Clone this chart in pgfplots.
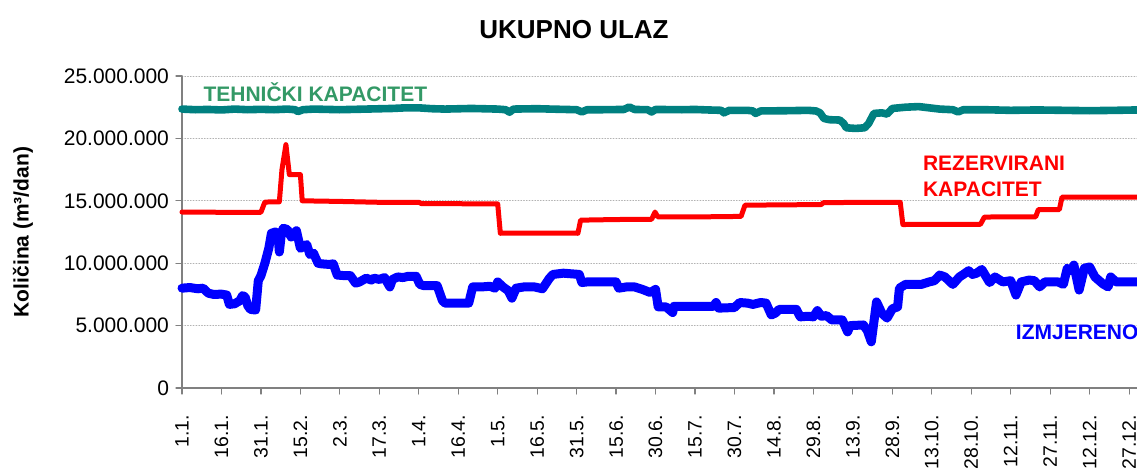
\documentclass[border=0pt]{standalone}
\usepackage{pgfplots}
\pgfplotsset{compat=1.18}
\usepackage{fontspec}
\setmainfont{Liberation Sans}
\definecolor{tealc}{RGB}{0,128,128}
\definecolor{seag}{RGB}{51,153,102}
\definecolor{axgray}{RGB}{128,128,128}
\begin{document}
\begin{tikzpicture}
\begin{axis}[
  at={(0,0)}, anchor=south west,
  scale only axis, width=477.5pt, height=156pt,
  xmin=0, xmax=363, ymin=0, ymax=25,
  axis lines=left, axis line style={-, draw=axgray, line width=0.6pt},
  xtick={0,15,...,360},
  xticklabels={1.1.,16.1.,31.1.,15.2.,2.3.,17.3.,1.4.,16.4.,1.5.,16.5.,31.5.,15.6.,30.6.,15.7.,30.7.,14.8.,29.8.,13.9.,28.9.,13.10.,28.10.,12.11.,27.11.,12.12.,27.12.},
  xticklabel style={rotate=90, anchor=east, font=\fontsize{9.7}{11}\selectfont},
  xticklabel shift=7pt,
  ytick={0,5,...,25},
  yticklabels={0,5.000.000,10.000.000,15.000.000,20.000.000,25.000.000},
  yticklabel style={font=\fontsize{10.5}{12}\selectfont},
  tick style={axgray, line width=0.6pt}, tick align=outside, major tick length=3pt,
  ymajorgrids, grid style={densely dotted, gray!60, line width=0.5pt},
  clip=false,
  line join=round, line cap=round,
]
% TEHNICKI KAPACITET
\addplot[tealc, line width=3.8pt] coordinates {
(0,22.35)(5,22.3)(10,22.32)(15,22.28)(20,22.35)(25,22.3)(30,22.33)(35,22.3)(40,22.35)(43,22.3)(44,22.15)(46,22.3)(50,22.35)(60,22.3)(70,22.35)(80,22.4)(85,22.45)(90,22.45)(95,22.38)(100,22.35)(110,22.4)(120,22.35)(123,22.3)(124.5,22.1)(126,22.35)(135,22.38)(140,22.35)(150,22.3)(152,22.12)(154,22.3)(160,22.3)(168,22.32)(170,22.52)(172,22.32)(177,22.3)(178.5,22.12)(180,22.32)(190,22.3)(195,22.32)(200,22.28)(205,22.25)(206,22.05)(208,22.25)(215,22.25)(217,22.2)(218,22.0)(220,22.2)(230,22.22)(238,22.25)(241,22.2)(242.5,22.05)(244,21.6)(246,21.5)(250,21.47)(251.5,21.2)(252.5,20.85)(256,20.8)(259.5,20.85)(261,21.2)(263,22.0)(266,22.05)(268,21.95)(270,22.4)(275,22.5)(280,22.55)(284,22.45)(288,22.35)(293,22.3)(295,22.12)(297,22.3)(305,22.3)(315,22.25)(325,22.28)(335,22.25)(345,22.22)(355,22.25)(363,22.28)
};
% REZERVIRANI KAPACITET
\addplot[red, line width=2.5pt] coordinates {
(0,14.1)(15,14.08)(30,14.08)(31.5,14.9)(37,14.92)(38,17.5)(39.5,19.5)(40.8,17.1)(45,17.1)(45.7,15.0)(60,14.95)(75,14.88)(90,14.88)(91,14.78)(120,14.75)(121,12.4)(135,12.42)(150.5,12.4)(151.5,13.45)(165,13.5)(178.5,13.52)(179.8,14.1)(180.8,13.72)(200,13.72)(212.5,13.75)(214,14.65)(243,14.7)(243.8,14.85)(260,14.88)(273,14.88)(274,13.1)(290,13.12)(303.5,13.12)(305,13.7)(324.5,13.72)(325.5,14.3)(333.5,14.3)(334.5,15.3)(363,15.3)
};
% IZMJERENO
\addplot[blue, line width=4.5pt] coordinates {
(0,8.0)(3,8.05)(6,7.95)(8,8.0)(10,7.6)(12,7.5)(15,7.52)(17,7.45)(18,6.7)(20,6.75)(22,7.0)(23,7.4)(24,7.3)(25,6.6)(26,6.3)(28,6.25)(29,8.6)(30,9.0)(31.5,10.0)(33,11.2)(34,12.4)(35.5,12.5)(36.5,12.3)(37,10.9)(37.8,12.4)(38.5,12.8)(40,12.7)(41.5,12.1)(42.5,12.4)(43.5,12.6)(45,11.2)(46,11.3)(47.4,11.5)(48.6,10.7)(50,10.8)(51.7,10.0)(53,9.95)(56,9.9)(57.5,9.95)(59,9.05)(62,9.0)(64,9.0)(66,8.4)(67.5,8.5)(70,8.8)(72,8.65)(73,8.8)(75,8.7)(77,8.85)(79,8.1)(80,8.7)(82,8.9)(84,8.85)(86,8.95)(89,8.95)(90.4,8.3)(92,8.2)(97,8.2)(99,7.0)(100,6.8)(109,6.8)(110.5,8.1)(114,8.1)(117,8.15)(119,8.0)(120,8.5)(122,8.1)(124,7.8)(125.4,7.2)(127,8.0)(130,8.1)(134,8.1)(137,7.95)(139.7,8.8)(141,9.1)(145,9.2)(151,9.1)(152,8.45)(154,8.5)(165,8.5)(166,8.0)(169,8.1)(172,8.1)(175,7.9)(178,7.65)(180,7.9)(181,6.5)(184,6.5)(186.5,6.05)(187,6.55)(195,6.55)(202,6.55)(203,6.85)(204,6.4)(210,6.45)(212,6.85)(215,6.8)(217,6.7)(220,6.85)(222,6.8)(224,5.85)(225.5,6.0)(227,6.3)(230,6.3)(233.5,6.3)(235,5.7)(238,5.75)(240,5.7)(241.5,6.2)(243,5.75)(245,5.8)(247,5.45)(251,5.45)(253,4.5)(254,5.0)(259,5.05)(260.5,4.6)(262,3.7)(264,6.9)(266,6.0)(268,5.6)(270,6.35)(272,6.5)(272.7,8.0)(275,8.3)(281,8.3)(284,8.5)(286,8.6)(288,9.05)(290,8.9)(293,8.3)(295.5,8.9)(297,9.1)(299,9.4)(300.5,9.1)(302,9.2)(304,9.5)(307,8.45)(309,8.9)(312,8.5)(315,8.6)(317,7.45)(319,8.5)(322,8.65)(324,8.6)(326,8.1)(328,8.5)(333,8.5)(335,8.3)(336.5,9.6)(338,9.4)(339,9.85)(341,7.85)(343,9.6)(345,9.7)(347,8.9)(350,8.35)(352,8.1)(353,8.9)(355,8.5)(363,8.5)
};
\node[seag, font=\fontsize{10.5}{12}\selectfont\bfseries, anchor=west] at (axis cs:5.5,23.7) {TEHNIČKI KAPACITET};
\node[red, font=\fontsize{10.5}{12}\selectfont\bfseries, anchor=west] at (axis cs:279,18.0) {REZERVIRANI};
\node[red, font=\fontsize{10.5}{12}\selectfont\bfseries, anchor=west] at (axis cs:279,15.9) {KAPACITET};
\node[blue, font=\fontsize{10.5}{12}\selectfont\bfseries, anchor=west] at (axis cs:314.3,4.5) {IZMJERENO};
\end{axis}
\node[font=\fontsize{13}{15}\selectfont\bfseries] at (196pt,179pt) {UKUPNO ULAZ};
\node[font=\fontsize{10.5}{12}\selectfont\bfseries, rotate=90] at (-79.5pt,78pt) {Količina (m³/dan)};
\pgfresetboundingbox
\path (-91pt,-40pt) rectangle (477.5pt,194pt);
\end{tikzpicture}
\end{document}
